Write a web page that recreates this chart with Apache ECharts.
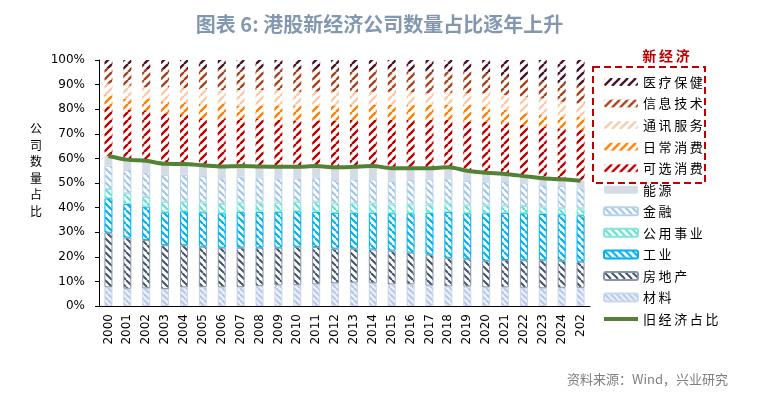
<!DOCTYPE html>
<html>
<head>
<meta charset="utf-8">
<script src="https://cdn.jsdelivr.net/npm/echarts@6/dist/echarts.min.js"></script>
<style>
  html, body { margin: 0; padding: 0; background: #fff; }
  #chartmain { width: 759px; height: 399px; }
</style>
</head>
<body>
<div id="chartmain"></div>
<script>
// 年份（最后一个标签在原图中被截断）
var years = ['2000','2001','2002','2003','2004','2005','2006','2007','2008','2009','2010','2011','2012',
             '2013','2014','2015','2016','2017','2018','2019','2020','2021','2022','2023','2024','202'];

// 旧经济
var materials   = [7.6,7.0,7.2,6.9,7.6,7.7,7.6,7.7,8.1,8.4,8.5,8.8,9.2,9.5,9.2,8.8,8.8,8.3,8.0,7.9,7.6,7.6,7.4,7.2,7.4,7.4];
var realEstate  = [22.2,20.8,19.6,17.8,17.1,16.4,16.1,16.0,15.6,15.3,15.6,15.2,14.1,13.8,13.8,13.7,12.9,12.6,11.6,11.1,10.8,11.1,11.2,11.4,11.0,10.6];
var industrials = [14.0,13.7,13.6,13.4,13.8,14.0,14.0,14.6,14.6,14.6,14.4,14.3,14.6,14.6,14.9,15.2,16.0,17.0,18.7,18.7,19.3,19.2,19.1,18.8,18.9,18.9];
var utilities   = [3.8,4.3,4.0,4.3,3.9,4.0,3.8,3.7,3.7,3.7,3.9,4.1,3.8,3.8,3.8,3.6,3.6,3.4,3.4,3.2,3.2,3.0,3.0,2.7,2.4,2.8];
var financials  = [9.4,9.5,9.9,10.9,10.9,10.7,10.4,10.6,10.2,9.9,9.5,9.8,9.5,9.8,9.8,9.6,9.9,10.2,10.2,9.9,9.6,9.5,9.2,9.1,9.1,8.5];
var energy      = [4.0,4.2,4.7,4.5,4.4,4.4,4.8,4.3,4.5,4.7,4.7,4.7,5.2,5.1,5.4,5.1,4.8,4.5,4.5,4.2,3.7,3.3,2.9,2.7,2.7,2.7];

// 新经济
var consumerDisc    = [20.0,20.2,20.5,20.5,19.9,19.1,19.6,19.4,19.4,19.0,18.6,18.5,18.8,19.0,18.7,19.6,19.6,19.6,19.2,19.9,20.7,20.6,20.8,21.0,20.7,20.6];
var consumerStaples = [4.7,4.5,4.7,4.8,5.2,5.9,6.1,5.1,5.3,5.9,6.2,6.0,6.3,6.1,6.1,6.1,6.1,6.1,6.1,6.8,6.1,5.4,4.7,4.7,4.7,5.4];
var telecom         = [4.7,5.4,4.7,5.8,5.7,6.0,5.4,6.4,6.4,6.2,5.7,5.8,5.6,5.4,5.4,5.4,5.2,4.8,5.0,4.8,5.5,6.1,6.8,6.8,6.1,5.5];
var infoTech        = [6.2,6.7,7.4,7.4,7.8,8.1,8.5,8.5,8.4,8.5,9.0,8.8,8.9,8.8,8.8,8.8,8.6,8.7,8.8,8.7,8.1,7.4,6.8,6.8,7.5,7.4];
var healthCare      = [3.4,3.7,3.7,3.7,3.7,3.7,3.7,3.7,3.8,3.8,3.9,4.0,4.0,4.1,4.1,4.1,4.5,4.8,4.5,4.8,5.4,6.8,8.1,8.8,9.5,10.2];

// 旧经济占比
var oldShare = [61.0,59.5,59.0,57.8,57.7,57.2,56.7,56.9,56.7,56.6,56.6,56.9,56.4,56.6,56.9,56.0,56.0,56.0,56.4,55.0,54.2,53.7,52.8,51.9,51.5,50.9];

var yTicks = [0,10,20,30,40,50,60,70,80,90,100];

// 斜线填充
function hatch(fg, dir, lw, size, bg) {
  var c = document.createElement('canvas');
  c.width = size; c.height = size;
  var g = c.getContext('2d');
  if (bg) { g.fillStyle = bg; g.fillRect(0, 0, size, size); }
  g.strokeStyle = fg; g.lineWidth = lw;
  g.beginPath();
  for (var k = -1; k <= 1; k++) {
    if (dir === '/') { g.moveTo(k * size, size); g.lineTo(k * size + size, 0); }
    else { g.moveTo(k * size, 0); g.lineTo(k * size + size, size); }
  }
  g.stroke();
  return { image: c, repeat: 'repeat' };
}

function bar(name, data, color, border) {
  var s = {
    name: name, type: 'bar', stack: 'all', barWidth: 8, data: data,
    itemStyle: { color: color },
    emphasis: { disabled: true }
  };
  if (border) { s.itemStyle.borderColor = border; s.itemStyle.borderWidth = 1; }
  return s;
}

var CJK = '"Noto Sans CJK SC", sans-serif';
var myChart = echarts.init(document.getElementById('chartmain'));

myChart.setOption({
  animation: false,
  title: {
    text: '图表 6: 港股新经济公司数量占比逐年上升',
    left: 'center', top: 9,
    textStyle: { fontSize: 20, fontWeight: 'bold', color: '#8497b0', fontFamily: CJK }
  },
  grid: { left: 99, right: 169, top: 60, bottom: 93 },
  xAxis: {
    type: 'category', data: years, boundaryGap: true,
    axisLine: { lineStyle: { color: '#000' } },
    axisTick: { length: 5, lineStyle: { color: '#000' } },
    axisLabel: { rotate: 90, margin: 8, fontSize: 12, color: '#000', fontFamily: 'DejaVu Sans', interval: 0 }
  },
  yAxis: {
    type: 'value', min: yTicks[0], max: yTicks[yTicks.length - 1], interval: 10,
    axisLine: { show: true, lineStyle: { color: '#000' } },
    axisTick: { show: true, length: 4, lineStyle: { color: '#000' } },
    splitLine: { show: false },
    axisLabel: { formatter: '{value}%', fontSize: 12, color: '#000', fontFamily: 'DejaVu Sans', margin: 14 }
  },
  legend: {
    orient: 'vertical', left: 598, top: 70,
    itemWidth: 34, itemHeight: 8, itemGap: 7.55,
    selectedMode: false,
    data: ['医疗保健','信息技术','通讯服务','日常消费','可选消费','能源','金融','公用事业','工业','房地产','材料',
           { name: '旧经济占比', icon: 'path://M0 0H100V12H0Z' }],
    formatter: function (n) { return n.split('').join('\u2009'); },
    textStyle: { fontSize: 13, lineHeight: 14, color: '#000', fontFamily: CJK }
  },
  graphic: [
    {
      type: 'rect', shape: { x: 593, y: 67, width: 112, height: 116 },
      style: { fill: 'none', stroke: '#c00000', lineWidth: 2, lineDash: [7, 4] }
    },
    {
      type: 'text', x: 666, y: 56,
      style: { text: '新\u2009经\u2009济', fill: '#c00000', font: 'bold 14px "Noto Sans CJK SC"', align: 'center', verticalAlign: 'middle' }
    },
    {
      type: 'text', x: 36, y: 170,
      style: { text: '公\n司\n数\n量\n占\n比', fill: '#000', font: '12px "Noto Sans CJK SC"', lineHeight: 16.5, align: 'center', verticalAlign: 'middle' }
    },
    {
      type: 'text', right: 31, top: 373,
      style: { text: '资料来源：Wind，兴业研究', fill: '#7f7f7f', font: '13px "Noto Sans CJK SC"' }
    }
  ],
  series: [
    bar('材料', materials, hatch('#b4c7e7', '\\', 2, 6, '#eef2fa'), '#c9d6ee'),
    bar('房地产', realEstate, hatch('#44546a', '\\', 2, 7, '#fff'), '#8a96a8'),
    bar('工业', industrials, hatch('#00b0f0', '\\', 2.2, 7, '#fff'), '#00b0f0'),
    bar('公用事业', utilities, hatch('#5fe0cf', '\\', 2.2, 7, '#fff'), '#7fe6d8'),
    bar('金融', financials, hatch('#9dc3e6', '\\', 2, 7, '#fff'), '#b7d2ec'),
    bar('能源', energy, '#d6dce5'),
    bar('可选消费', consumerDisc, hatch('#c00000', '/', 2.4, 8)),
    bar('日常消费', consumerStaples, hatch('#ff8000', '/', 2.4, 8)),
    bar('通讯服务', telecom, hatch('#f8cbad', '/', 2.4, 8)),
    bar('信息技术', infoTech, hatch('#a9431e', '/', 2.4, 8)),
    bar('医疗保健', healthCare, hatch('#4f1423', '/', 2.4, 8)),
    {
      name: '旧经济占比', type: 'line', data: oldShare, symbol: 'none', smooth: 0.3, z: 10,
      lineStyle: { width: 4, color: '#548235' }, itemStyle: { color: '#548235' },
      emphasis: { disabled: true }
    }
  ]
});
</script>
</body>
</html>
